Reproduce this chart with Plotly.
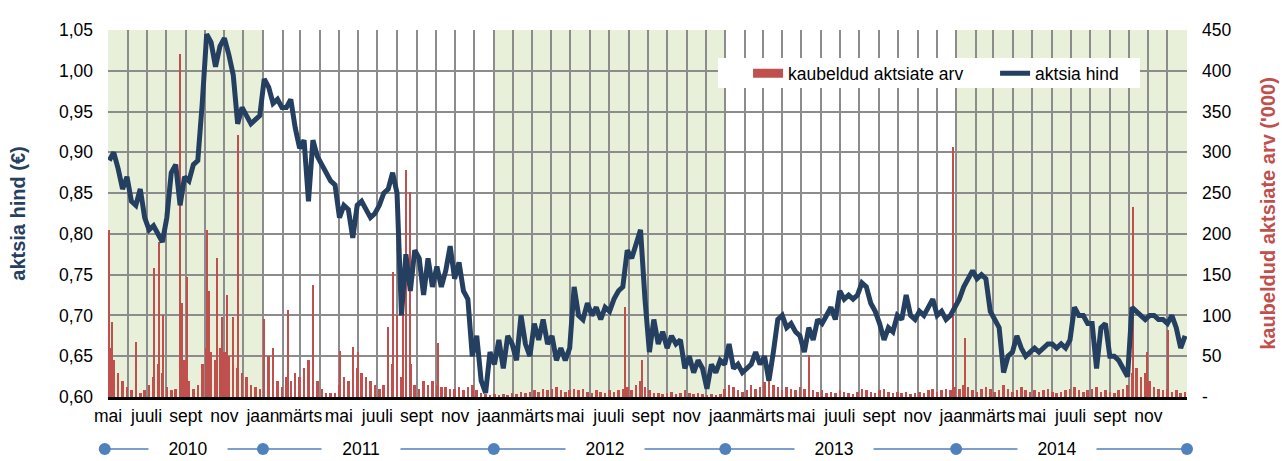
import plotly.graph_objects as go
import pandas as pd

# ---- data ----
# weekly closing price (EUR), weeks starting 2010-05-03
price = [
    0.89, 0.90, 0.88, 0.855, 0.87, 0.84, 0.835, 0.855, 0.82, 0.805,
    0.81, 0.80, 0.79, 0.82, 0.875, 0.885, 0.835, 0.87, 0.865, 0.885,
    0.89, 0.96, 1.045, 1.035, 1.005, 1.03, 1.04, 1.02, 0.995, 0.935,
    0.955, 0.945, 0.935, 0.94, 0.945, 0.99, 0.98, 0.96, 0.965, 0.955,
    0.955, 0.965, 0.93, 0.905, 0.915, 0.84, 0.915, 0.895, 0.885, 0.875,
    0.865, 0.86, 0.82, 0.835, 0.83, 0.795, 0.835, 0.84, 0.83, 0.82,
    0.825, 0.835, 0.85, 0.855, 0.875, 0.85, 0.70, 0.775, 0.73, 0.78,
    0.77, 0.725, 0.77, 0.735, 0.76, 0.735, 0.755, 0.785, 0.745, 0.765,
    0.73, 0.72, 0.65, 0.675, 0.62, 0.605, 0.655, 0.64, 0.67, 0.635,
    0.675, 0.665, 0.645, 0.70, 0.665, 0.65, 0.69, 0.67, 0.695, 0.665,
    0.675, 0.645, 0.66, 0.645, 0.66, 0.735, 0.70, 0.695, 0.715, 0.70,
    0.71, 0.695, 0.71, 0.705, 0.72, 0.73, 0.735, 0.78, 0.77, 0.79,
    0.805, 0.72, 0.655, 0.695, 0.665, 0.68, 0.66, 0.675, 0.665, 0.67,
    0.635, 0.65, 0.63, 0.645, 0.635, 0.61, 0.64, 0.63, 0.645, 0.64,
    0.665, 0.635, 0.64, 0.63, 0.635, 0.64, 0.655, 0.64, 0.65, 0.62,
    0.655, 0.695, 0.70, 0.685, 0.69, 0.68, 0.675, 0.655, 0.685, 0.67,
    0.695, 0.69, 0.70, 0.71, 0.695, 0.73, 0.72, 0.725, 0.72, 0.725,
    0.74, 0.735, 0.715, 0.705, 0.69, 0.67, 0.685, 0.68, 0.70, 0.695,
    0.725, 0.70, 0.695, 0.705, 0.70, 0.71, 0.72, 0.70, 0.705, 0.695,
    0.70, 0.71, 0.72, 0.735, 0.745, 0.755, 0.745, 0.75, 0.745, 0.705,
    0.695, 0.685, 0.63, 0.65, 0.655, 0.675, 0.66, 0.65, 0.655, 0.66,
    0.655, 0.66, 0.665, 0.665, 0.66, 0.665, 0.66, 0.67, 0.71, 0.70,
    0.70, 0.69, 0.69, 0.635, 0.685, 0.69, 0.65, 0.65, 0.645, 0.635,
    0.625, 0.71, 0.705, 0.70, 0.695, 0.70, 0.70, 0.695, 0.695, 0.69,
    0.70, 0.685, 0.66, 0.675,
]

# typical daily traded volume ('000 shares) per week
volume = [
    60, 45, 30, 20, 12, 8, 5, 5, 8, 15,
    25, 40, 30, 12, 8, 10, 30, 45, 20, 10,
    15, 40, 60, 55, 45, 60, 55, 50, 45, 35,
    30, 25, 15, 12, 10, 70, 50, 45, 20, 12,
    25, 20, 30, 25, 35, 45, 40, 20, 10, 5,
    5, 5, 15, 25, 20, 30, 35, 30, 25, 20,
    15, 10, 15, 20, 40, 30, 25, 35, 40, 15,
    10, 20, 15, 20, 15, 12, 12, 10, 10, 12,
    8, 12, 15, 8, 5, 4, 3, 4, 3, 4,
    3, 5, 4, 6, 5, 6, 8, 6, 10, 8,
    10, 12, 8, 6, 8, 10, 8, 10, 6, 5,
    8, 6, 5, 8, 6, 8, 10, 12, 8, 15,
    20, 12, 8, 5, 5, 4, 5, 6, 4, 5,
    8, 5, 4, 5, 4, 3, 4, 3, 4, 10,
    15, 12, 8, 6, 8, 15, 10, 12, 18, 20,
    15, 12, 8, 12, 10, 8, 12, 10, 15, 8,
    6, 8, 5, 6, 5, 8, 6, 5, 4, 6,
    10, 8, 6, 5, 8, 10, 6, 5, 6, 5,
    6, 4, 5, 6, 5, 8, 10, 6, 8, 10,
    8, 12, 10, 15, 12, 8, 6, 10, 12, 10,
    6, 8, 15, 10, 6, 8, 12, 8, 6, 8,
    6, 8, 10, 6, 5, 6, 8, 10, 12, 8,
    6, 8, 10, 12, 6, 8, 6, 5, 8, 10,
    15, 30, 35, 25, 30, 20, 12, 10, 8, 10,
    6, 8, 5, 6,
]

# single trading days with unusually high volume ('000 shares)
spike_dates = [
    "2010-05-03", "2010-05-07", "2010-06-14", "2010-07-12", "2010-07-21",
    "2010-07-27", "2010-08-23", "2010-08-26", "2010-09-03", "2010-10-04",
    "2010-10-07", "2010-10-20", "2010-10-28", "2010-11-05", "2010-11-15",
    "2010-11-22", "2011-01-03", "2011-01-17", "2011-02-09", "2011-03-21",
    "2011-05-03", "2011-05-23", "2011-06-01", "2011-07-18", "2011-07-25",
    "2011-08-01", "2011-08-10", "2011-08-15", "2011-08-22", "2011-10-04",
    "2012-07-26", "2012-08-23", "2013-05-14", "2013-12-27", "2014-01-15",
    "2014-10-08", "2014-10-30", "2014-12-02",
]
spike_vals = [
    205, 92, 68, 158, 190, 100, 420, 115, 147, 205,
    130, 171, 98, 125, 98, 321, 96, 60, 107, 137,
    57, 61, 55, 86, 153, 100, 120, 278, 251, 66,
    110, 45, 51, 306, 72, 233, 55, 82,
]

month_names = {1: "jaan", 3: "märts", 5: "mai", 7: "juuli", 9: "sept", 11: "nov"}
year_bounds = ["2010-05-01", "2011-01-01", "2012-01-01", "2013-01-01", "2014-01-01", "2015-01-01"]
year_labels = ["2010", "2011", "2012", "2013", "2014"]
year_label_pos = ["2010-09-05", "2011-06-05", "2012-06-25", "2013-06-22", "2014-06-10"]
shaded_years = [("2010-05-01", "2011-01-01"), ("2012-01-01", "2013-01-01"), ("2014-01-01", "2015-01-01")]

RED = "#C0504D"
NAVY = "#243F60"
BLUE = "#4F81BD"
GRID = "#8C8C8C"
FONT = "Liberation Sans, Arial, sans-serif"
DAY_MS = 86400000
X_START, X_END = "2010-05-01", "2015-01-01"

week_dates = pd.date_range("2010-05-03", periods=len(price), freq="7D")
month_starts = pd.date_range(X_START, "2014-12-01", freq="MS")
month_text = [month_names.get(d.month, "") for d in month_starts]


def paper_x(d):
    """fraction of the x range for a date (used for decorations drawn outside the plot area)"""
    t0, t1 = pd.Timestamp(X_START), pd.Timestamp(X_END)
    return (pd.Timestamp(d) - t0) / (t1 - t0)


fig = go.Figure()
fig.add_trace(go.Bar(x=week_dates, y=volume, yaxis="y", width=4 * DAY_MS,
                     marker=dict(color=RED, line_width=0), showlegend=False, hoverinfo="skip"))
fig.add_trace(go.Bar(x=spike_dates, y=spike_vals, yaxis="y", width=1.6 * DAY_MS,
                     marker=dict(color=RED, line_width=0), showlegend=False, hoverinfo="skip"))
fig.add_trace(go.Scatter(x=[None], y=[None], yaxis="y", mode="lines",
                         line=dict(color=RED, width=9), name="kaubeldud aktsiate arv"))
fig.add_trace(go.Scatter(x=week_dates, y=price, yaxis="y2", mode="lines",
                         line=dict(color=NAVY, width=5), name="aktsia hind"))

shapes = []
for a, b in shaded_years:
    shapes.append(dict(type="rect", xref="x", yref="paper", x0=a, x1=b, y0=0, y1=1,
                       fillcolor="#E9F0DA", line_width=0, layer="below"))
# white legend box
shapes.append(dict(type="rect", xref="paper", yref="paper", x0=0.5653, x1=0.9564, y0=0.842, y1=0.9237,
                   fillcolor="white", line_width=0, layer="above"))
# year row under the month labels
YROW = -0.142
shapes.append(dict(type="line", xref="paper", yref="paper", x0=paper_x(year_bounds[0]) - 0.003,
                   x1=paper_x(year_bounds[-1]), y0=YROW, y1=YROW, line=dict(color=BLUE, width=1.5)))
for i, d in enumerate(year_bounds):
    px = paper_x(d) - (0.003 if i == 0 else 0)
    shapes.append(dict(type="circle", xref="paper", yref="paper", xsizemode="pixel", ysizemode="pixel",
                       xanchor=px, yanchor=YROW, x0=-6, x1=6, y0=-6, y1=6,
                       fillcolor=BLUE, line_width=0))

annotations = []
for lab, pos in zip(year_labels, year_label_pos):
    annotations.append(dict(x=pos, y=YROW, xref="x", yref="paper", text=lab, showarrow=False,
                            xanchor="center", yanchor="middle",
                            bgcolor="white", width=76, font=dict(size=17.5, color="black", family=FONT)))

fig.update_layout(
    width=1282, height=461,
    margin=dict(l=108, r=95, t=30, b=64, autoexpand=False),
    paper_bgcolor="white", plot_bgcolor="white",
    separators=", ",
    barmode="overlay", bargap=0,
    font=dict(family=FONT, size=17.5, color="black"),
    shapes=shapes, annotations=annotations,
    legend=dict(orientation="h", x=0.5932, y=0.931, xanchor="left", yanchor="top",
                entrywidth=202, entrywidthmode="pixels",
                bgcolor="rgba(0,0,0,0)", font=dict(size=17.5, color="black"), traceorder="normal"),
    xaxis=dict(type="date", range=[X_START, X_END], tickmode="array",
               tickvals=month_starts, ticktext=month_text, tickangle=0,
               showgrid=True, gridcolor=GRID, gridwidth=1.5, automargin=False,
               showline=True, linecolor="black", linewidth=3, ticks="",
               ticklabelstandoff=1, tickfont=dict(size=17.5)),
    yaxis=dict(side="right", range=[0, 450], tickmode="array",
               tickvals=list(range(0, 451, 50)),
               ticktext=["-"] + [str(v) for v in range(50, 451, 50)],
               showgrid=True, gridcolor=GRID, gridwidth=1.5, zeroline=False, automargin=False,
               ticks="", ticklabelstandoff=14, tickfont=dict(size=17.5),
               title=dict(text="kaubeldud aktsiate arv ('000)", standoff=30,
                          font=dict(size=20, color=RED, weight="bold"))),
    yaxis2=dict(side="left", overlaying="y", range=[0.60, 1.05], dtick=0.05, tick0=0.6,
                tickformat=".2f", showgrid=False, zeroline=False, automargin=False,
                ticks="", ticklabelstandoff=14, tickfont=dict(size=17.5),
                title=dict(text="aktsia hind (€)", standoff=27,
                           font=dict(size=20, color="#254061", weight="bold"))),
)

fig.write_html("out.html", config={"displayModeBar": False},
               post_script="document.body.style.margin='0';")
